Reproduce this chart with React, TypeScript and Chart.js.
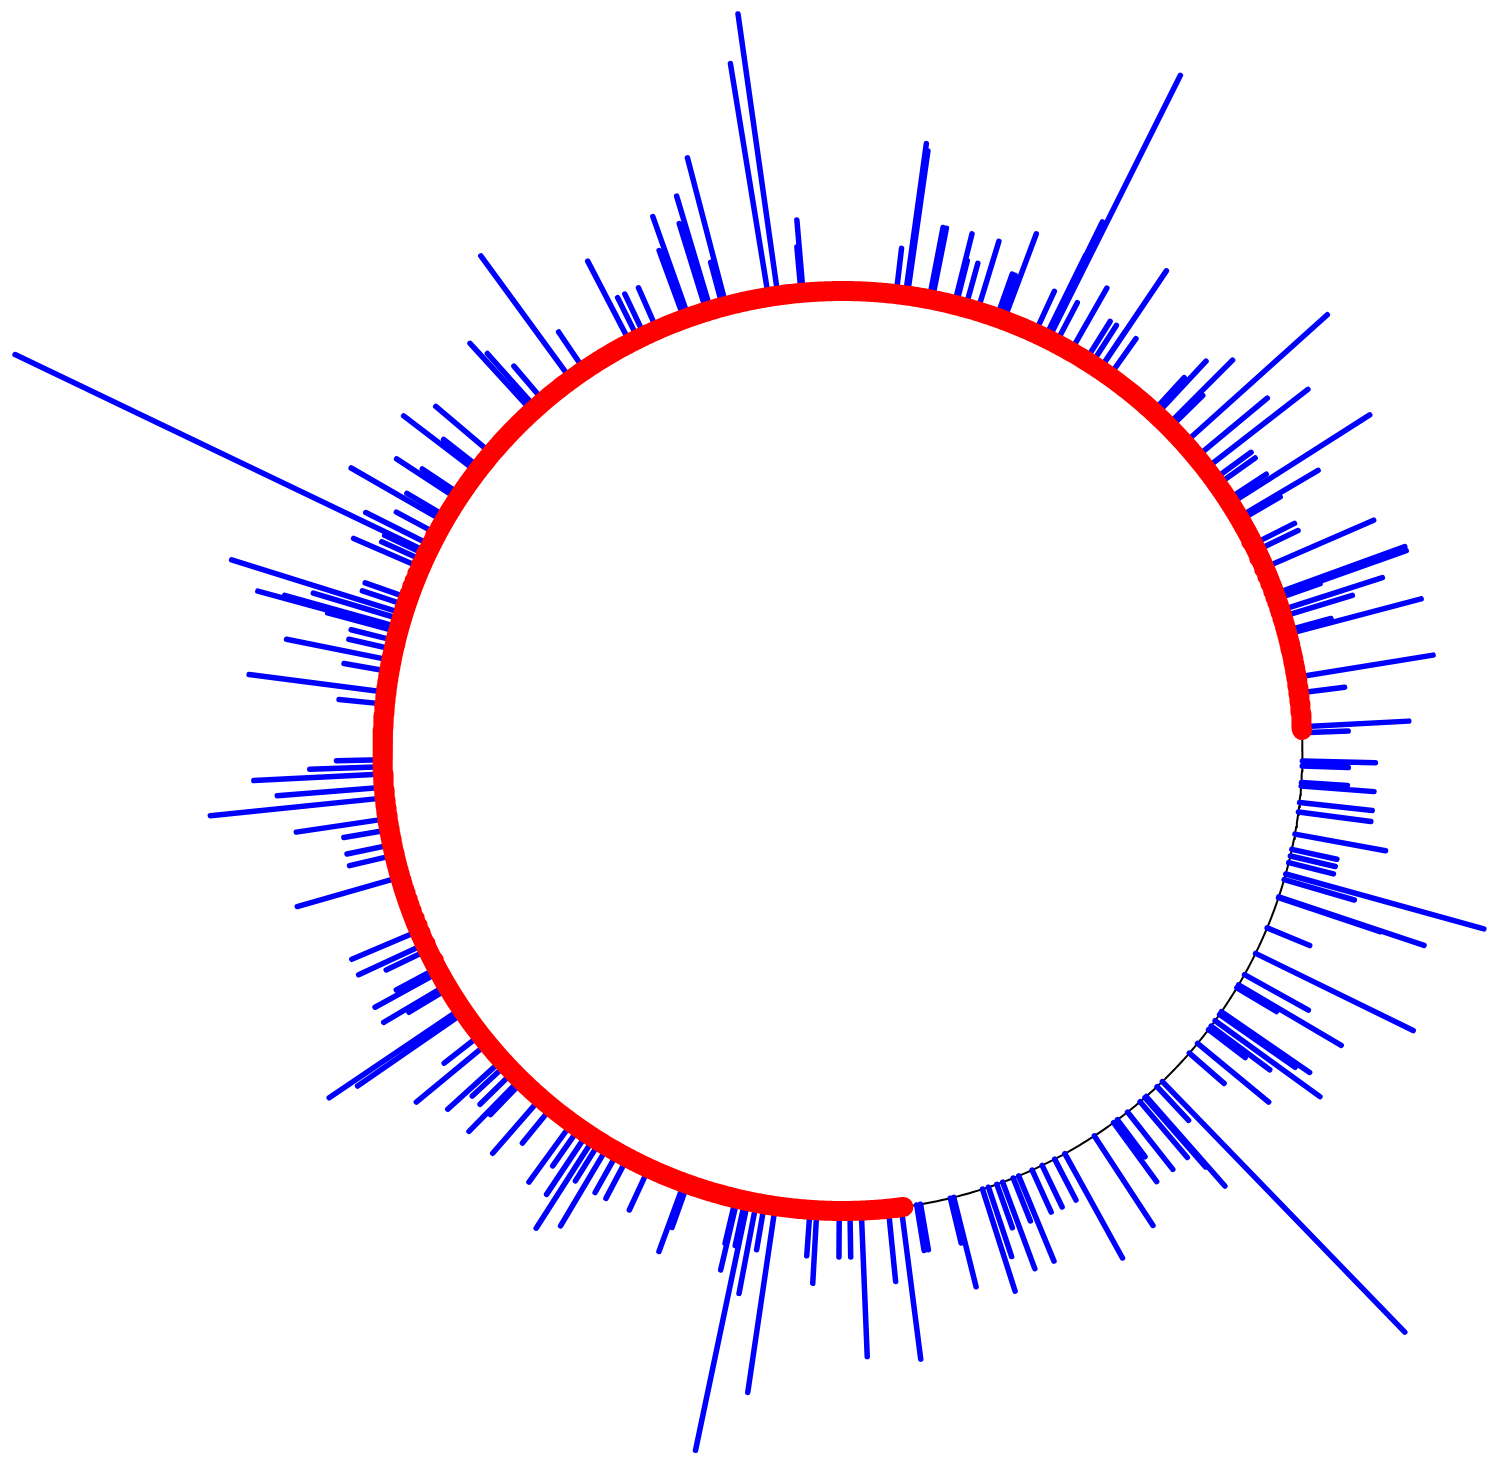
import React, { useEffect, useRef } from "react";
import { Chart, registerables } from "chart.js";

Chart.register(...registerables);

// Direction of each spike, degrees counter-clockwise from east
const SPIKE_ANGLES_DEG = [
  2.26, 3.02, 7.24, 9.22, 14.73, 15.18, 16.98, 17.81, 19.31, 19.57, 19.97, 23.49,
  25.83, 26.73, 30.14, 30.54, 32.52, 33.15, 35.38, 36.17, 37.85, 39.71, 41.98, 44.62,
  45.06, 47.0, 47.54, 54.56, 56.0, 56.02, 57.24, 58.08, 60.27, 62.36, 63.43, 63.84,
  63.88, 65.26, 69.46, 70.06, 70.41, 72.94, 74.49, 75.72, 75.94, 78.76, 79.13, 81.9,
  82.14, 83.3, 94.91, 95.17, 98.07, 99.26, 104.65, 105.1, 106.64, 107.2, 109.54, 110.12,
  113.77, 115.47, 116.38, 117.48, 124.12, 126.15, 130.49, 131.78, 132.42, 139.73, 142.01, 142.63,
  146.13, 146.77, 149.4, 150.06, 151.83, 153.43, 154.4, 154.78, 155.58, 156.5, 160.59, 161.55,
  162.62, 163.39, 164.41, 164.71, 164.99, 166.14, 167.25, 168.64, 170.05, 172.66, 174.15, 181.09,
  181.96, 182.88, 184.53, 185.85, 188.45, 189.85, 191.75, 193.09, 195.92, 203.0, 204.82, 205.63,
  208.16, 208.73, 210.61, 211.08, 214.04, 214.64, 218.09, 219.48, 222.22, 222.99, 224.26, 225.52,
  225.92, 228.99, 230.77, 233.97, 235.07, 236.28, 237.3, 238.15, 239.3, 240.74, 242.13, 245.09,
  249.86, 250.31, 256.58, 256.79, 257.76, 258.13, 259.2, 260.23, 261.6, 265.95, 266.8, 269.6,
  270.93, 272.34, 275.72, 277.33, 279.28, 279.77, 283.56, 284.0, 287.72, 288.5, 289.61, 290.38,
  291.79, 292.52, 294.35, 295.72, 297.47, 298.91, 303.2, 306.11, 306.71, 308.29, 310.31, 311.11,
  311.32, 313.14, 314.06, 318.94, 320.52, 322.73, 323.27, 324.1, 325.06, 325.47, 329.02, 329.44,
  330.92, 333.9, 337.39, 341.42, 341.52, 343.77, 344.49, 345.95, 346.81, 347.65, 349.59, 352.39,
  353.58, 355.63, 356.08, 358.12, 358.75,
];

// Count carried by each spike (same order as the angles)
const SPIKE_COUNTS = [
  1, 4, 1, 7, 7, 1, 2, 4, 1, 7, 7, 5,
  1, 1, 1, 3, 11, 1, 1, 1, 6, 3, 17, 1,
  3, 2, 1, 1, 5, 1, 1, 1, 2, 1, 84, 6,
  3, 1, 3, 1, 1, 2, 1, 1, 2, 2, 2, 8,
  9, 1, 2, 1, 71, 34, 9, 1, 5, 3, 4, 2,
  1, 1, 1, 3, 1, 9, 1, 2, 3, 2, 1, 3,
  1, 2, 1, 4, 1, 2, 971, 1, 1, 2, 1, 1,
  14, 3, 5, 8, 2, 1, 1, 4, 1, 7, 1, 1,
  2, 6, 4, 13, 3, 1, 1, 1, 4, 2, 2, 1,
  1, 2, 2, 1, 10, 6, 1, 3, 2, 1, 1, 2,
  1, 2, 1, 2, 1, 2, 4, 1, 3, 1, 1, 1,
  2, 1, 1, 2, 1, 45, 3, 1, 16, 1, 2, 1,
  1, 8, 2, 9, 1, 1, 1, 3, 4, 2, 1, 3,
  1, 3, 1, 1, 1, 5, 4, 2, 1, 2, 2, 3,
  5, 1, 188, 1, 3, 1, 2, 6, 3, 4, 1, 5,
  2, 13, 1, 4, 9, 2, 21, 1, 1, 1, 3, 2,
  2, 2, 1, 1, 2,
];

// Highlighted arc (degrees, counter-clockwise from east)
const ARC_START_DEG = 2.6;
const ARC_END_DEG = 277.6;

// Geometry / scale (chart units are pixels)
const BASE_RADIUS = 460;
const LOG_SCALE = 66.5;
const X_MIN = -842.5;
const X_MAX = 654.5;
const Y_MIN = -714;
const Y_MAX = 751;
const WIDTH = 1497;
const HEIGHT = 1465;

type Pt = { x: number | null; y: number | null };

function polar(r: number, deg: number): Pt {
  const a = (deg * Math.PI) / 180;
  return { x: r * Math.cos(a), y: r * Math.sin(a) };
}

function arcPoints(r: number, from: number, to: number, step: number): Pt[] {
  const pts: Pt[] = [];
  const n = Math.ceil(Math.abs(to - from) / step);
  for (let i = 0; i <= n; i++) {
    pts.push(polar(r, from + ((to - from) * i) / n));
  }
  return pts;
}

export default function App() {
  const ref = useRef<HTMLCanvasElement | null>(null);

  useEffect(() => {
    if (!ref.current) return;

    const spikes: Pt[] = [];
    SPIKE_ANGLES_DEG.forEach((deg, i) => {
      const len = LOG_SCALE * Math.log1p(SPIKE_COUNTS[i]);
      spikes.push(polar(BASE_RADIUS, deg));
      spikes.push(polar(BASE_RADIUS + len, deg));
      spikes.push({ x: null, y: null });
    });

    const circle = arcPoints(BASE_RADIUS, 0, 360, 0.5);
    const arc = arcPoints(BASE_RADIUS, ARC_START_DEG, ARC_END_DEG, 0.25);

    const chart = new Chart(ref.current, {
      type: "scatter",
      data: {
        datasets: [
          {
            label: "arc",
            data: arc as any,
            showLine: true,
            borderColor: "#ff0000",
            borderWidth: 20,
            borderCapStyle: "round",
            borderJoinStyle: "round",
            pointRadius: 0,
            pointHoverRadius: 0,
            tension: 0,
            clip: false as any,
            order: 0,
          },
          {
            label: "spikes",
            data: spikes as any,
            showLine: true,
            spanGaps: false,
            borderColor: "#0000ff",
            borderWidth: 5.5,
            borderCapStyle: "round",
            pointRadius: 0,
            pointHoverRadius: 0,
            tension: 0,
            clip: false as any,
            order: 1,
          },
          {
            label: "circle",
            data: circle as any,
            showLine: true,
            borderColor: "#000000",
            borderWidth: 2,
            pointRadius: 0,
            pointHoverRadius: 0,
            tension: 0,
            clip: false as any,
            order: 2,
          },
        ],
      },
      options: {
        animation: false,
        responsive: false,
        maintainAspectRatio: false,
        devicePixelRatio: 1,
        layout: { padding: 0 },
        events: [],
        plugins: {
          legend: { display: false },
          tooltip: { enabled: false },
          title: { display: false },
        },
        scales: {
          x: { type: "linear", min: X_MIN, max: X_MAX, display: false },
          y: { type: "linear", min: Y_MIN, max: Y_MAX, display: false },
        },
      },
    });

    return () => chart.destroy();
  }, []);

  return (
    <div style={{ position: "absolute", left: 0, top: 0, width: WIDTH, height: HEIGHT, background: "#ffffff" }}>
      <canvas ref={ref} width={WIDTH} height={HEIGHT} style={{ width: WIDTH, height: HEIGHT, display: "block" }} />
    </div>
  );
}
